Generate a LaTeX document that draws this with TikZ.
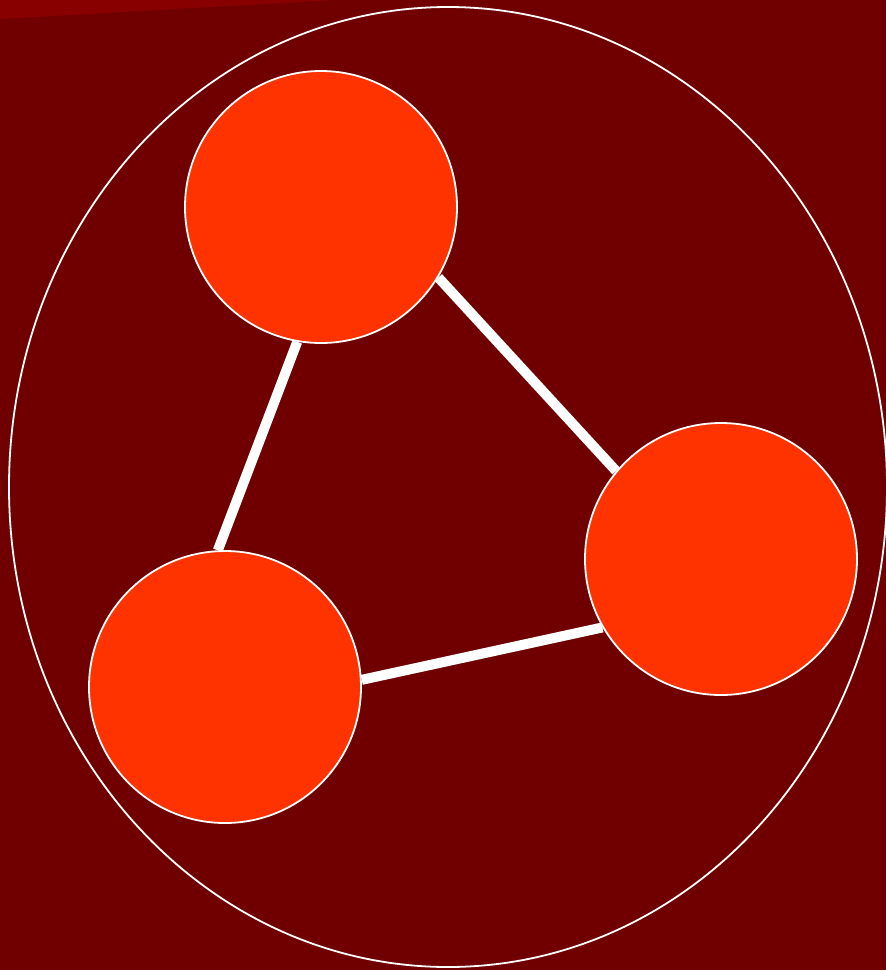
\documentclass[tikz,border=0pt]{standalone}
\begin{document}
\begin{tikzpicture}[x=1pt,y=-1pt,
  blob/.style={circle,draw=white,line width=1.8pt,fill=orangered,minimum size=272pt,inner sep=0pt},
  link/.style={draw=white,line width=10pt}]
\definecolor{bgred}{HTML}{700000}
\definecolor{stripred}{HTML}{880000}
\definecolor{orangered}{HTML}{FF3300}
\fill[bgred] (0,0) rectangle (886,970);
\useasboundingbox (0,0) rectangle (886,970);
\fill[stripred] (0,0) -- (335,0) -- (0,19) -- cycle;
\draw[white,line width=1.8pt] (448,487) ellipse [x radius=439, y radius=480];
\node[blob] (top) at (321,207) {};
\node[blob] (right) at (721,559) {};
\node[blob] (left) at (225,687) {};
\draw[link] (top.-100) -- (left.93);
\draw[link] (top.-31) -- (right.140);
\draw[link] (left.3) -- (right.210);
\end{tikzpicture}
\end{document}
